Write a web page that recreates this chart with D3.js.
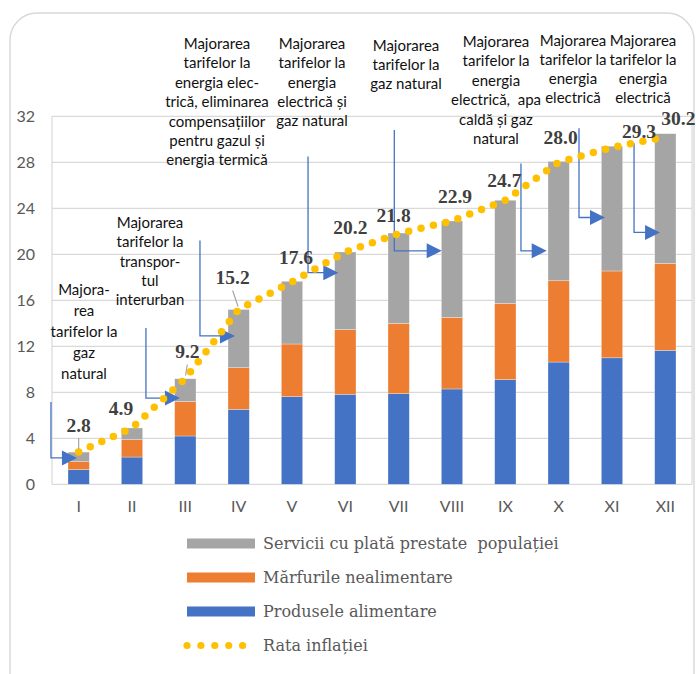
<!DOCTYPE html>
<html>
<head>
<meta charset="utf-8">
<script src="https://cdn.jsdelivr.net/npm/d3@7"></script>
<style>
  body { margin: 0; background: #fff; }
  svg { display: block; }
  text { white-space: pre; }
</style>
</head>
<body>
<div id="chart"></div>
<script>
// data
var months = ["I", "II", "III", "IV", "V", "VI", "VII", "VIII", "IX", "X", "XI", "XII"];
var food = [1.27, 2.37, 4.2, 6.52, 7.62, 7.83, 7.88, 8.29, 9.1, 10.63, 11.0, 11.65];
var nonFood = [0.7, 1.51, 3.0, 3.62, 4.58, 5.62, 6.12, 6.23, 6.64, 7.07, 7.55, 7.55];
var services = [0.83, 1.02, 1.98, 5.06, 5.45, 6.75, 7.85, 8.38, 8.96, 10.38, 10.85, 11.29];
var inflation = [2.8, 4.9, 9.2, 15.2, 17.6, 20.2, 21.8, 22.9, 24.7, 28.0, 29.3, 30.2];
var yTicks = [0, 4, 8, 12, 16, 20, 24, 28, 32];

var seriesKeys = ["food", "nonFood", "services"];
var seriesColors = {food: "#4472C4", nonFood: "#ED7D31", services: "#A5A5A5"};

var legendItems = [
  {label: "Servicii cu plată prestate  populației", color: "#A5A5A5"},
  {label: "Mărfurile nealimentare", color: "#ED7D31"},
  {label: "Produsele alimentare", color: "#4472C4"},
  {label: "Rata inflației", color: "#FFC000", dots: true}
];

// callout texts
var notes = [
  ["Majora-", "rea", "tarifelor la", "gaz", "natural"],
  ["Majorarea", "tarifelor la", "transpor-", "tul", "interurban"],
  ["Majorarea", "tarifelor la", "energia elec-", "trică, eliminarea", "compensațiilor", "pentru gazul și", "energia termică"],
  ["Majorarea", "tarifelor la", "energia", "electrică și", "gaz natural"],
  ["Majorarea", "tarifelor la", "gaz natural"],
  ["Majorarea", "tarifelor la", "energia", "electrică,  apa", "caldă și gaz", "natural"],
  ["Majorarea", "tarifelor la", "energia", "electrică"],
  ["Majorarea", "tarifelor la", "energia", "electrică"]
];
// where each callout text sits (px) and where its arrow goes (month + values)
var noteLayout = [
  {x: 84, y: 289, lh: 21},
  {x: 150, y: 222, lh: 19.3},
  {x: 217, y: 43, lh: 19.4},
  {x: 312, y: 43, lh: 19.3},
  {x: 406, y: 45, lh: 18.8},
  {x: 496, y: 41, lh: 19.4},
  {x: 573, y: 39.5, lh: 19.1},
  {x: 643, y: 39.5, lh: 19.1}
];
var arrows = [
  {m: "I", dx: -27.7, from: 7.15, to: 2.29, tip: -1.7},
  {m: "III", dx: -39.4, from: 13.6, to: 7.5, tip: -5.4},
  {m: "IV", dx: -38.7, from: 21.2, to: 12.9, tip: -3.7},
  {m: "VI", dx: -37.3, from: 28.5, to: 18.4, tip: -7},
  {m: "VIII", dx: -57.7, from: 30.8, to: 20.3, tip: -10.3},
  {m: "X", dx: -37.7, from: 27.9, to: 20.3, tip: -12},
  {m: "XI", dx: -33, from: 30.96, to: 23.2, tip: -7},
  {m: "XII", dx: -31.3, from: 29.65, to: 21.9, tip: -5.3}
];
// offset of each value label from its point
var labelShift = [[0, -27], [-11, -19], [2, -27], [-6, -32], [4, -24], [5, -25],
                  [-5, -18], [3, -24], [-1, -20], [2, -25], [27, -16], [13, -19]];
var leaderIdx = [0, 2, 3];

var width = 696, height = 674;
var plot = {left: 52, right: 692, top: 116.3, bottom: 484.3};

var svg = d3.select("#chart").append("svg")
    .attr("width", width)
    .attr("height", height);

// outer frame
svg.append("rect")
    .attr("x", 10).attr("y", 13)
    .attr("width", 684).attr("height", 700)
    .attr("rx", 27)
    .attr("fill", "none")
    .attr("stroke", "#d9d9d9")
    .attr("stroke-width", 1.5);

var x = d3.scaleBand().domain(months)
    .range([plot.left, plot.right])
    .paddingInner(0.6).paddingOuter(0.3);
var y = d3.scaleLinear().domain([0, 32]).range([plot.bottom, plot.top]);
var cx = function(m) { return x(m) + x.bandwidth() / 2; };

// grid
svg.append("g").selectAll("line")
    .data(yTicks)
    .enter().append("line")
    .attr("x1", plot.left).attr("x2", plot.right)
    .attr("y1", function(d) { return y(d); })
    .attr("y2", function(d) { return y(d); })
    .attr("stroke", "#d9d9d9")
    .attr("stroke-width", 1.2);
svg.append("line")
    .attr("x1", plot.left).attr("x2", plot.left)
    .attr("y1", plot.top).attr("y2", plot.bottom)
    .attr("stroke", "#d9d9d9").attr("stroke-width", 1.2);
svg.append("line")
    .attr("x1", plot.right).attr("x2", plot.right)
    .attr("y1", plot.top).attr("y2", plot.bottom)
    .attr("stroke", "#d9d9d9").attr("stroke-width", 1.2);

// y axis labels
var yAxis = svg.append("g")
    .attr("transform", "translate(" + (plot.left - 17) + ",0)")
    .call(d3.axisLeft(y).tickValues(yTicks).tickSize(0).tickPadding(0));
yAxis.select(".domain").remove();
yAxis.selectAll("text")
    .attr("font-family", "Lato, sans-serif")
    .attr("font-size", 16)
    .attr("fill", "#595959");

// x axis labels
var xAxis = svg.append("g")
    .attr("transform", "translate(0," + plot.bottom + ")")
    .call(d3.axisBottom(x).tickSize(0).tickPadding(16));
xAxis.select(".domain").remove();
xAxis.selectAll("text")
    .attr("font-family", "Lato, sans-serif")
    .attr("font-size", 16)
    .attr("fill", "#595959");

// stacked bars
var rows = months.map(function(m, i) {
  return {month: m, food: food[i], nonFood: nonFood[i], services: services[i]};
});
var stacked = d3.stack().keys(seriesKeys)(rows);

svg.append("g").selectAll("g")
    .data(stacked)
    .enter().append("g")
    .attr("fill", function(d) { return seriesColors[d.key]; })
    .selectAll("rect")
    .data(function(d) { return d; })
    .enter().append("rect")
    .attr("x", function(d) { return x(d.data.month); })
    .attr("y", function(d) { return y(d[1]); })
    .attr("width", x.bandwidth())
    .attr("height", function(d) { return y(d[0]) - y(d[1]); })
    .attr("stroke", "#ffffff")
    .attr("stroke-opacity", 0.5)
    .attr("stroke-width", 0.6);

// callout arrows
var arrowColor = "#4472C4";
arrows.forEach(function(a) {
  var vx = cx(a.m) + a.dx;
  var tx = cx(a.m) + a.tip;
  var yb = y(a.to);
  svg.append("path")
      .attr("d", "M" + vx + "," + y(a.from) + "V" + yb + "H" + (tx - 14))
      .attr("fill", "none")
      .attr("stroke", arrowColor)
      .attr("stroke-width", 1.3);
  svg.append("path")
      .attr("d", "M" + tx + "," + yb + "L" + (tx - 15) + "," + (yb - 7.5) +
                 "L" + (tx - 15) + "," + (yb + 7.5) + "Z")
      .attr("fill", arrowColor);
});

// callout texts
notes.forEach(function(lines, i) {
  var L = noteLayout[i];
  var t = svg.append("text")
      .attr("font-family", "Lato, sans-serif")
      .attr("font-size", 15)
      .attr("fill", "#111")
      .attr("text-anchor", "middle");
  t.selectAll("tspan")
      .data(lines)
      .enter().append("tspan")
      .attr("x", L.x)
      .attr("y", function(d, j) { return L.y + j * L.lh; })
      .attr("dominant-baseline", "central")
      .text(function(d) { return d; });
});

// inflation dotted line
var line = d3.line()
    .x(function(d, i) { return cx(months[i]); })
    .y(function(d) { return y(d); });
svg.append("path")
    .datum(inflation)
    .attr("d", line)
    .attr("fill", "none")
    .attr("stroke", "#FFC000")
    .attr("stroke-width", 7.5)
    .attr("stroke-linecap", "round")
    .attr("stroke-dasharray", "0 12.7");

// leader lines
leaderIdx.forEach(function(i) {
  var px = cx(months[i]), py = y(inflation[i]);
  var lx = px + labelShift[i][0], ly = py + labelShift[i][1];
  svg.append("line")
      .attr("x1", lx).attr("y1", ly + 13)
      .attr("x2", px - (px - lx) * 0.1).attr("y2", py - 3)
      .attr("stroke", "#a6a6a6")
      .attr("stroke-width", 1.2);
});

// value labels
svg.append("g").selectAll("text")
    .data(inflation)
    .enter().append("text")
    .attr("x", function(d, i) { return cx(months[i]) + labelShift[i][0]; })
    .attr("y", function(d, i) { return y(d) + labelShift[i][1]; })
    .attr("dominant-baseline", "central")
    .attr("text-anchor", "middle")
    .attr("font-family", "'Liberation Serif', serif")
    .attr("font-weight", "bold")
    .attr("font-size", 19.5)
    .attr("fill", "#404040")
    .text(function(d) { return d.toFixed(1); });

// legend
var legend = svg.append("g").selectAll("g")
    .data(legendItems)
    .enter().append("g")
    .attr("transform", function(d, i) { return "translate(187," + (543.5 + i * 34) + ")"; });
legend.filter(function(d) { return !d.dots; })
    .append("rect")
    .attr("x", 0).attr("y", -5)
    .attr("width", 68).attr("height", 10)
    .attr("fill", function(d) { return d.color; });
legend.filter(function(d) { return d.dots; })
    .selectAll("circle")
    .data(d3.range(5))
    .enter().append("circle")
    .attr("cx", function(d) { return d * 13.9; })
    .attr("cy", 0)
    .attr("r", 3.6)
    .attr("fill", "#FFC000");
legend.append("text")
    .attr("x", 76)
    .attr("y", 0)
    .attr("dominant-baseline", "central")
    .attr("font-family", "'DejaVu Serif', serif")
    .attr("font-size", 16)
    .attr("fill", "#595959")
    .text(function(d) { return d.label; });
</script>
</body>
</html>
